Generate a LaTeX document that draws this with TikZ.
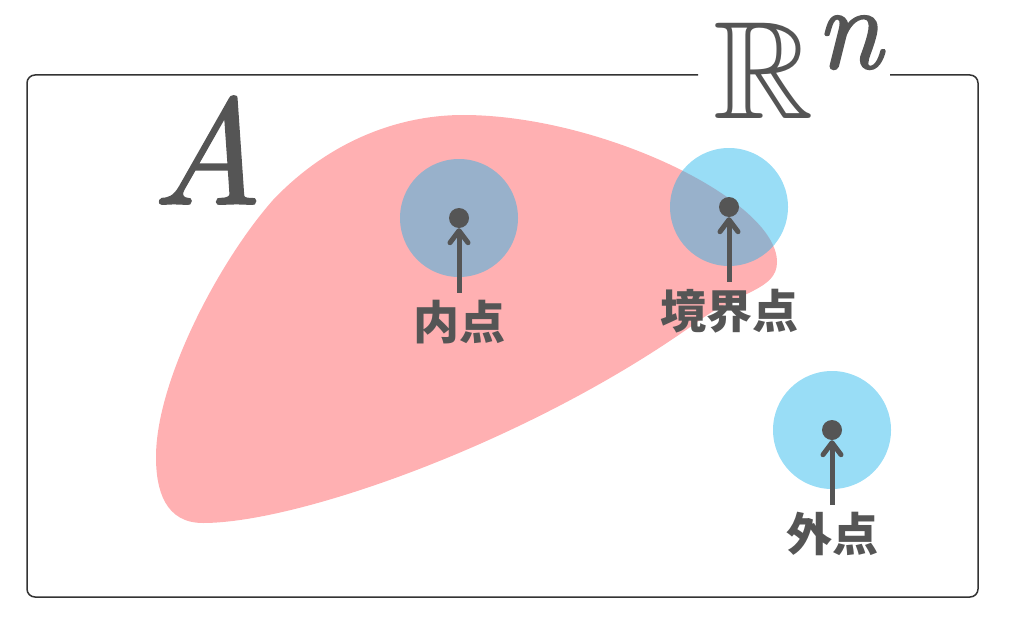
\RequirePackage{fix-cm}
\documentclass[tikz,border=0pt]{standalone}
\usepackage{amssymb}
\usepackage{fontspec}
\newfontfamily\jpfont{Noto Sans CJK JP}
\newfontfamily\letterfont{lmroman10-italic.otf}[FakeBold=1.6]
\usetikzlibrary{arrows.meta}
\definecolor{setpink}{RGB}{255,176,178}
\definecolor{nbhdblue}{RGB}{28,179,235}
\definecolor{inkgray}{RGB}{85,85,85}
\definecolor{framegray}{RGB}{51,51,51}
\def\NbhdRadius{59}
\def\DotSize{20}
\def\LabelDrop{104}

\begin{document}
\begin{tikzpicture}[x=1pt,y=-1pt,
    nbhd/.style={fill=nbhdblue, fill opacity=.45},
    pt/.style={circle, fill=inkgray, inner sep=0pt, minimum size=\DotSize},
    ptlabel/.style={text=inkgray, inner sep=0pt,
      font=\jpfont\bfseries\fontsize{46}{46}\selectfont},
    pointer/.style={draw=inkgray, line width=5pt, shorten <=7pt,
      -{Straight Barb[length=12pt,width=18pt,round]}}]
  \useasboundingbox (0,0) rectangle (1024,623);
  \coordinate (I) at (459,218);
  \coordinate (B) at (729,207);
  \coordinate (E) at (832,430);
  % the set A
  \fill [setpink] (463,115)
    .. controls (600,115) and (777,200) .. (777,262)
    .. controls (777,290) and (740,291) .. (700,320)
    .. controls (534,440) and (300,523) .. (203,523)
    .. controls (165,523) and (156,490) .. (156,457)
    .. controls (156,380) and (220,260) .. (273,200)
    .. controls (330,140) and (400,115) .. cycle;
  % the space
  \draw [framegray, line width=1.5pt, rounded corners=8pt]
    (698,75) -- (27,75) -- (27,597) -- (978,597) -- (978,75) -- (890,75);
  % neighbourhoods
  \foreach \p in {I,B,E}
    \fill [nbhd] (\p) circle (\NbhdRadius);
  % points
  \foreach \p/\txt in {I/内点, B/境界点, E/外点}
    {
      \node [pt] (\p dot) at (\p) {};
      \node [ptlabel, yshift=-\LabelDrop pt] (\p label) at (\p) {\txt};
      \draw [pointer] (\p label.north) -- (\p dot.south);
    }
  % labels
  \node [text=inkgray, inner sep=0pt, font=\letterfont\fontsize{150}{150}\selectfont]
    (Aname) at (207,150) {A};
  \node [text=inkgray, inner sep=0pt, anchor=base west,
    font=\fontsize{139}{139}\selectfont] (Rn) at (713,118)
    {$\mathbb{R}$\hspace{2pt}\raisebox{50pt}{\letterfont\fontsize{118}{118}\selectfont n}};
\end{tikzpicture}
\end{document}
